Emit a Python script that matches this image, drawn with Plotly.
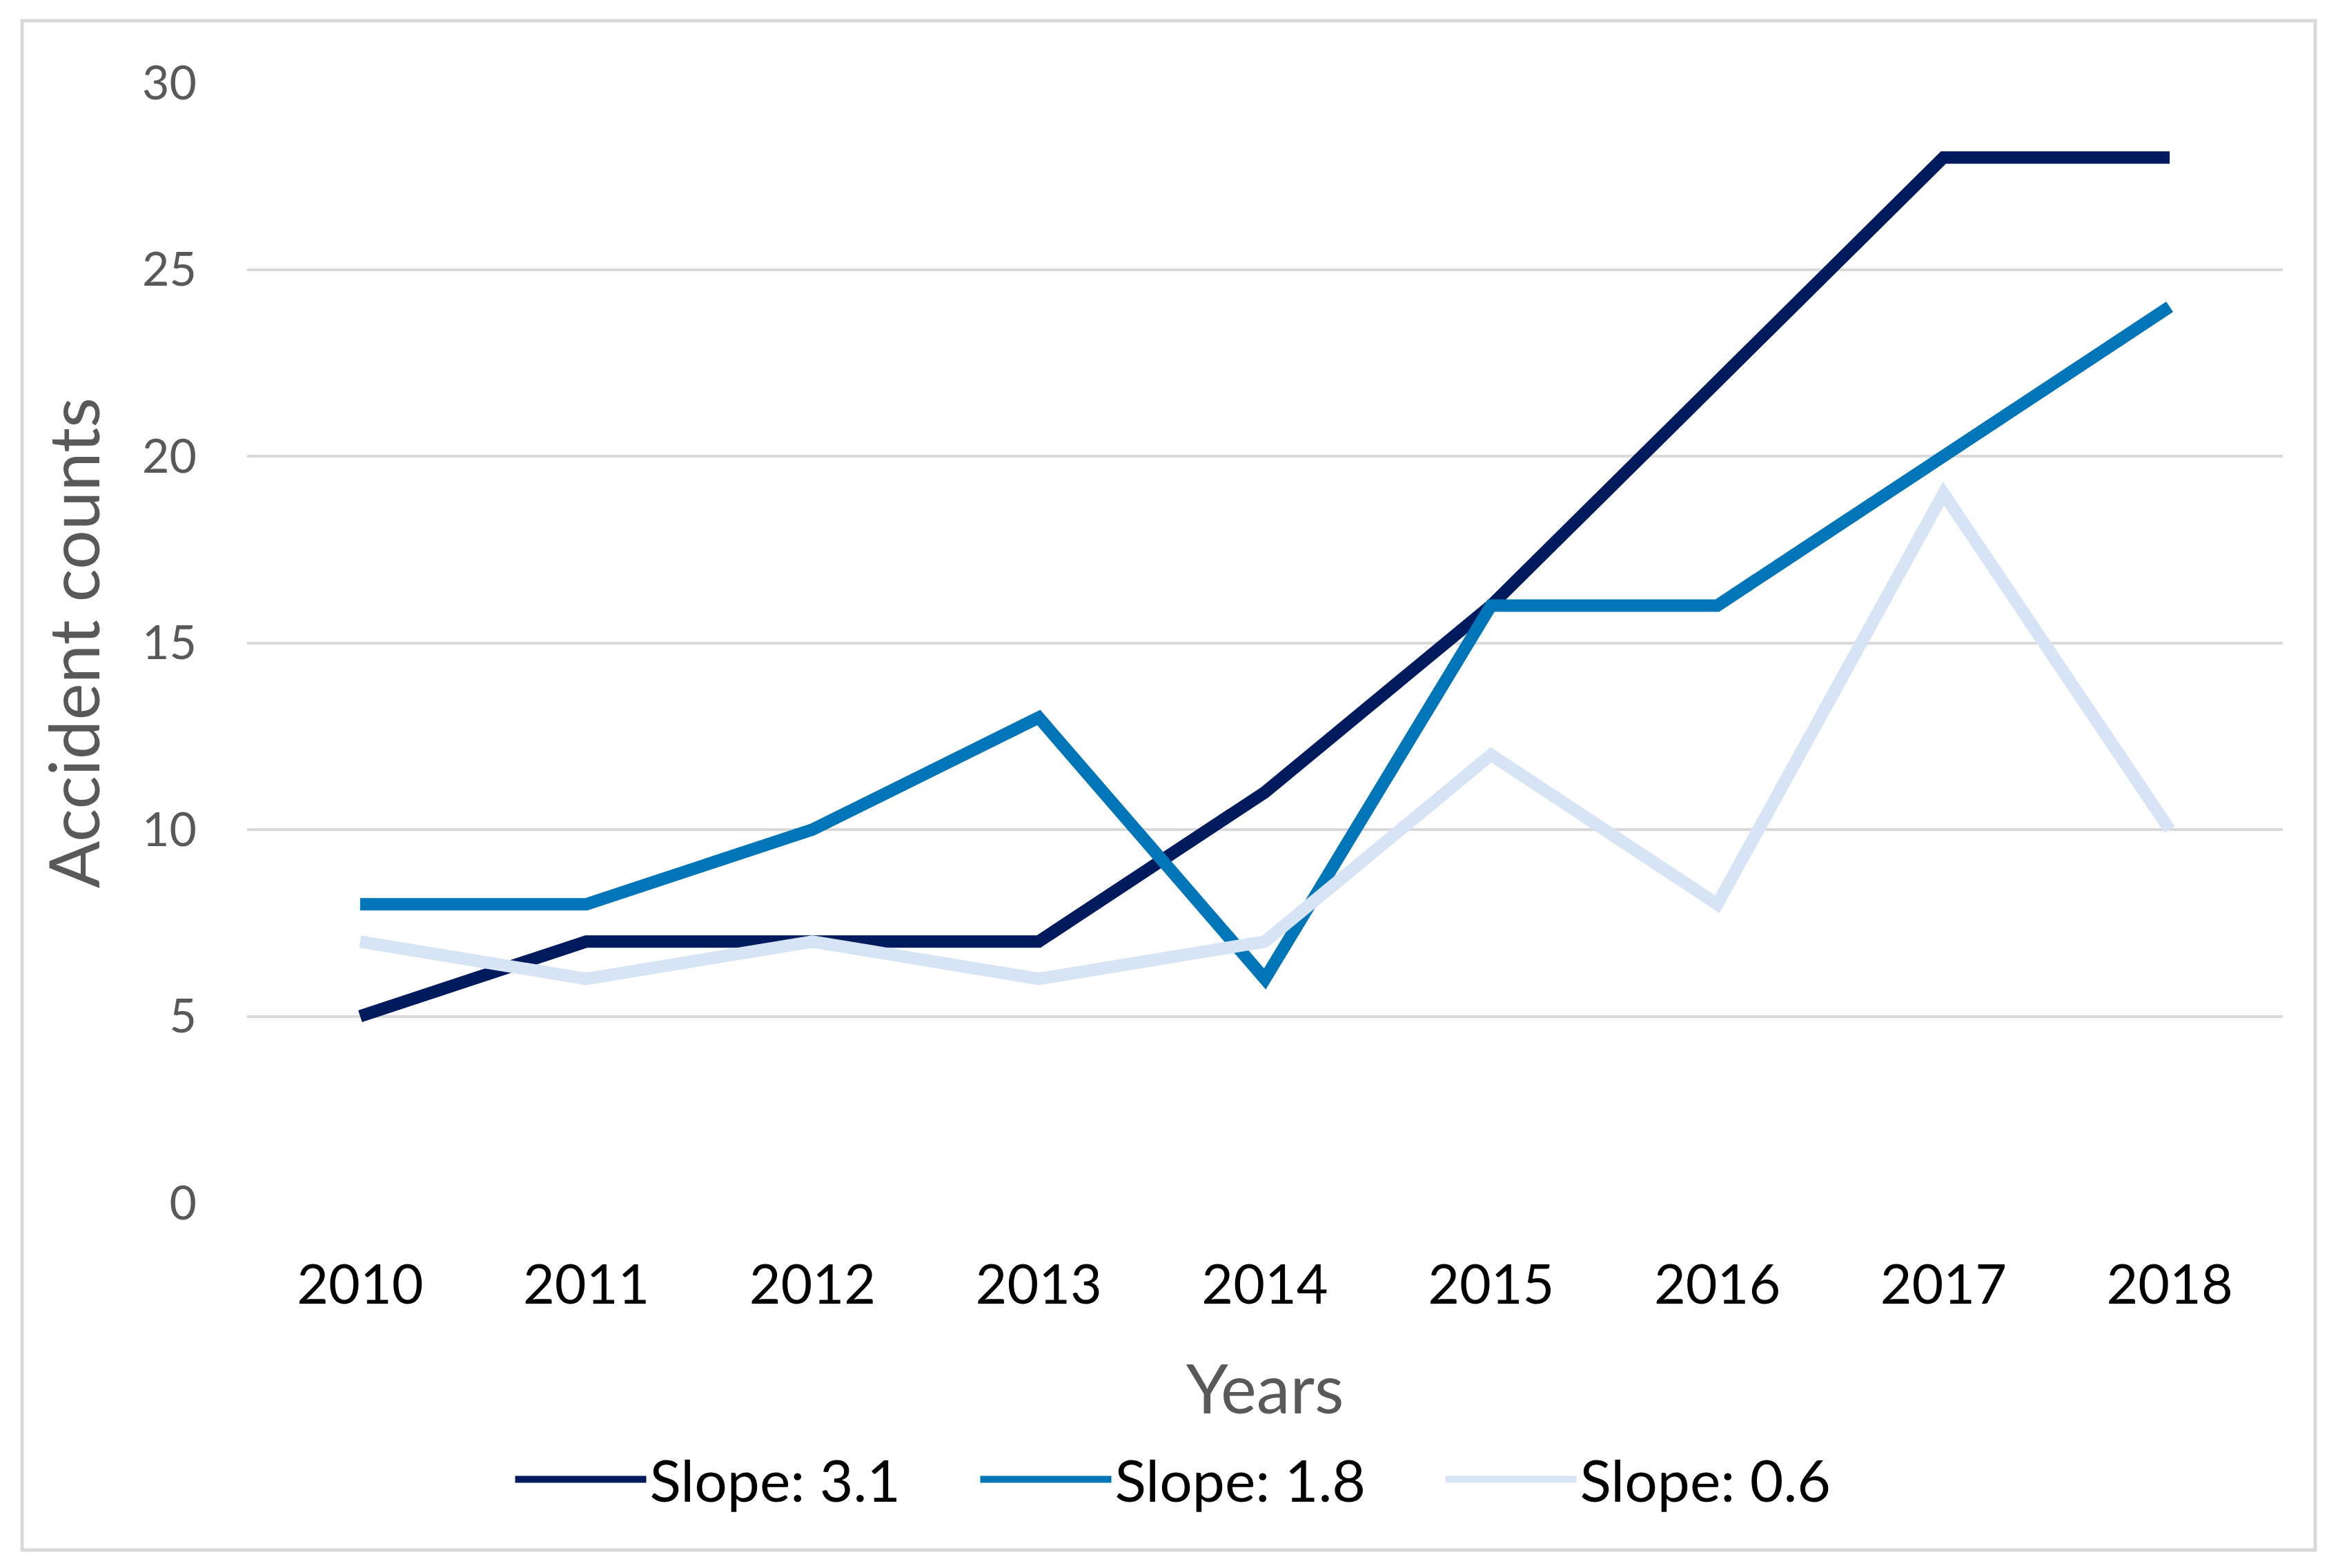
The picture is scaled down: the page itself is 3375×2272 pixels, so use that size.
import plotly.graph_objects as go

years = ["2010", "2011", "2012", "2013", "2014", "2015", "2016", "2017", "2018"]
slope_31 = [5, 7, 7, 7, 11, 16, 22, 28, 28]
slope_18 = [8, 8, 10, 13, 6, 16, 16, 20, 24]
slope_06 = [7, 6, 7, 6, 7, 12, 8, 19, 10]
series_names = ["Slope: 3.1", "Slope: 1.8", "Slope: 0.6"]
series_colors = ["#001A5E", "#0075B8", "#D6E4F5"]
y_ticks = [0, 5, 10, 15, 20, 25, 30]

W, H = 3375, 2272
ML, MR, MT, MB = 350, 75, 112, 537
PW = W - ML - MR
PH = H - MT - MB

fig = go.Figure()
for name, vals, col in zip(series_names, [slope_31, slope_18, slope_06], series_colors):
    fig.add_trace(go.Scatter(
        x=years, y=vals, mode="lines", name=name,
        line=dict(color=col, width=18),
    ))

# outer frame
fx0, fx1 = 24, 3347
fy0, fy1 = 22, 2238
fig.add_shape(
    type="rect", xref="paper", yref="paper",
    x0=(fx0 - ML) / PW, x1=(fx1 - ML) / PW,
    y0=(H - MB - fy1) / PH, y1=(H - MB - fy0) / PH,
    line=dict(color="#D9D9D9", width=5), fillcolor="rgba(0,0,0,0)", layer="below",
)

fig.update_layout(
    width=W, height=H,
    margin=dict(l=ML, r=MR, t=MT, b=MB, pad=0, autoexpand=False),
    paper_bgcolor="white", plot_bgcolor="white",
    font=dict(family="Lato", color="#595959"),
    showlegend=True,
    legend=dict(
        orientation="h", x=0.13, xanchor="left", y=-0.247, yanchor="middle",
        font=dict(size=84, color="black", family="Lato"),
        itemwidth=190, entrywidth=469, entrywidthmode="pixels",
        bgcolor="rgba(0,0,0,0)", tracegroupgap=0,
    ),
    xaxis=dict(
        type="category", range=[-0.5, 8.5],
        showgrid=False, zeroline=False, showline=False,
        tickfont=dict(size=79, color="black", family="Lato"),
        ticks="", ticklabelstandoff=66,
        title=dict(text="Years", font=dict(size=98, color="#595959", family="Lato"), standoff=74),
    ),
    yaxis=dict(
        range=[0, 30], tickvals=y_ticks,
        showgrid=True, gridcolor="#D9D9D9", gridwidth=4,
        zeroline=False, showline=False,
        tickfont=dict(size=68, color="#595959", family="Lato"),
        ticks="", ticklabelstandoff=72,
        title=dict(text="Accident counts", font=dict(size=101, color="#595959", family="Lato"), standoff=27),
    ),
)

fig.write_html("out.html")
